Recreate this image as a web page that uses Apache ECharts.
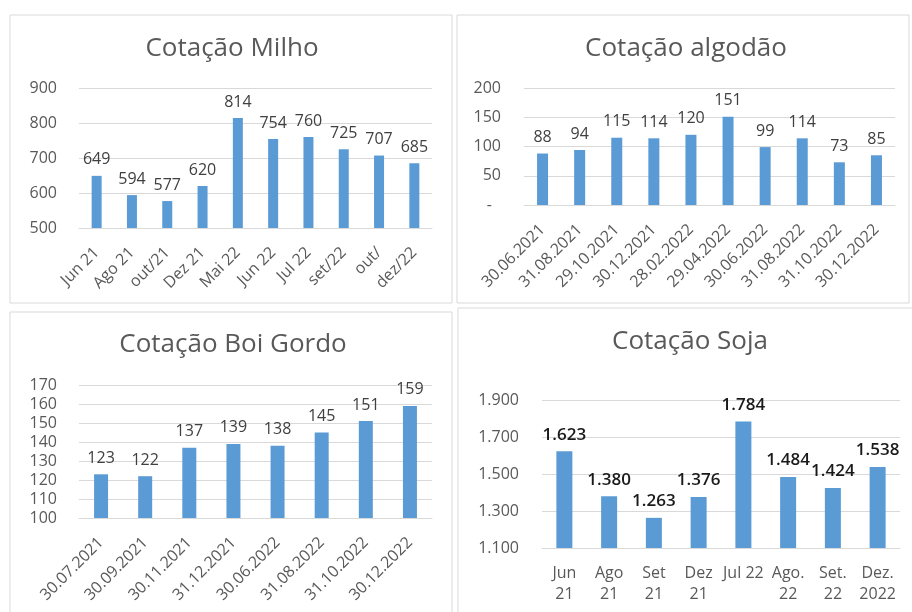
<!DOCTYPE html>
<html><head><meta charset="utf-8">
<script src="https://cdn.jsdelivr.net/npm/echarts@6/dist/echarts.min.js"></script>
<style>html,body{margin:0;padding:0;background:#fff}#c{width:912px;height:612px}</style>
</head><body><div id="c"></div>
<script>
const milhoCats = ['Jun 21','Ago 21','out/21','Dez 21','Mai 22','Jun 22','Jul 22','set/22','out/','dez/22'];
const milhoVals = [649,594,577,620,814,754,760,725,707,685];
const milhoTicks = [500,600,700,800,900];

const algodaoCats = ['30.06.2021','31.08.2021','29.10.2021','30.12.2021','28.02.2022','29.04.2022','30.06.2022','31.08.2022','31.10.2022','30.12.2022'];
const algodaoVals = [88,94,115,114,120,151,99,114,73,85];
const algodaoTicks = [0,50,100,150,200];

const boiCats = ['30.07.2021','30.09.2021','30.11.2021','31.12.2021','30.06.2022','31.08.2022','31.10.2022','30.12.2022'];
const boiVals = [123,122,137,139,138,145,151,159];
const boiTicks = [100,110,120,130,140,150,160,170];

const sojaCats = ['Jun\n21','Ago\n21','Set\n21','Dez\n21','Jul 22','Ago.\n22','Set.\n22','Dez.\n2022'];
const sojaVals = [1623,1380,1263,1376,1784,1484,1424,1538];
const sojaTicks = [1100,1300,1500,1700,1900];

const FONT = 'Open Sans';
const GRAY = '#595959';
const LBL = '#404040';
const GRID = '#d9d9d9';
const BAR = '#5b9bd5';

function thousands(v){ return String(v).replace(/\B(?=(\d{3})+(?!\d))/g,'.'); }

const chart = echarts.init(document.getElementById('c'), null, {renderer:'canvas'});

function xAxis(idx, cats, opts){
  return Object.assign({
    type:'category', gridIndex: idx, data: cats,
    axisLine:{show:true, lineStyle:{color:GRID, width:1}},
    axisTick:{show:false},
    axisLabel:{color:GRAY, fontFamily:FONT, fontSize:16, rotate:45, margin:22, interval:0}
  }, opts||{});
}
function yAxis(idx, ticks, opts){
  return Object.assign({
    type:'value', gridIndex: idx,
    min: ticks[0], max: ticks[ticks.length-1], interval: ticks[1]-ticks[0],
    axisLine:{show:false}, axisTick:{show:false},
    splitLine:{show:true, lineStyle:{color:GRID, width:1}},
    axisLabel:{color:GRAY, fontFamily:FONT, fontSize:16, margin:22}
  }, opts||{});
}
function bars(idx, vals, w, lblOpts){
  return {
    type:'bar', xAxisIndex: idx, yAxisIndex: idx, data: vals, barWidth: w,
    itemStyle:{color:BAR}, silent:true, animation:false,
    label:Object.assign({show:true, position:'top', distance:8, color:LBL, fontFamily:FONT, fontSize:16}, lblOpts||{})
  };
}

const titleStyle = {color:GRAY, fontFamily:FONT, fontSize:26, fontWeight:'normal'};

const option = {
  backgroundColor:'#fff',
  animation:false,
  graphic:[
    {type:'rect', shape:{x:10,y:15,width:442,height:288}, style:{fill:'#fff', stroke:GRID, lineWidth:1}, z:-10},
    {type:'rect', shape:{x:457,y:15,width:452,height:288}, style:{fill:'#fff', stroke:GRID, lineWidth:1}, z:-10},
    {type:'rect', shape:{x:10,y:312,width:442,height:310}, style:{fill:'#fff', stroke:GRID, lineWidth:1}, z:-10},
    {type:'rect', shape:{x:458,y:308,width:460,height:310}, style:{fill:'#fff', stroke:GRID, lineWidth:1}, z:-10}
  ],
  title:[
    {text:'Cotação Milho', left:227, top:44, textAlign:'center', textVerticalAlign:'middle', textStyle:titleStyle},
    {text:'Cotação algodão', left:681, top:44, textAlign:'center', textVerticalAlign:'middle', textStyle:titleStyle},
    {text:'Cotação Boi Gordo', left:228, top:340, textAlign:'center', textVerticalAlign:'middle', textStyle:titleStyle},
    {text:'Cotação Soja', left:685, top:337, textAlign:'center', textVerticalAlign:'middle', textStyle:titleStyle}
  ],
  grid:[
    {left:79, right:480, top:88, bottom:384},
    {left:524, right:17, top:88, bottom:407},
    {left:79, right:480, top:385, bottom:94},
    {left:542, right:12, top:400, bottom:64}
  ],
  xAxis:[
    xAxis(0, milhoCats),
    xAxis(1, algodaoCats),
    xAxis(2, boiCats),
    xAxis(3, sojaCats, {axisLabel:{color:GRAY, fontFamily:FONT, fontSize:16, rotate:0, margin:15, interval:0, lineHeight:21}})
  ],
  yAxis:[
    yAxis(0, milhoTicks),
    yAxis(1, algodaoTicks, {axisLabel:{color:GRAY, fontFamily:FONT, fontSize:16, margin:23,
      formatter:function(v){ return v===0 ? '{d|-}' : String(v); },
      rich:{d:{color:GRAY, fontFamily:FONT, fontSize:16, padding:[0,9,0,0]}}}}),
    yAxis(2, boiTicks, {axisLabel:{color:GRAY, fontFamily:FONT, fontSize:16, margin:22}}),
    yAxis(3, sojaTicks, {interval: 100, splitLine:{show:false},
      axisLabel:{color:GRAY, fontFamily:FONT, fontSize:16, margin:23,
        formatter:function(v){ return sojaTicks.indexOf(v) >= 0 ? thousands(v) : ''; }}})
  ],
  series:[
    bars(0, milhoVals, 10),
    bars(1, algodaoVals, 11),
    bars(2, boiVals, 14),
    {
      type:'line', xAxisIndex:3, yAxisIndex:3, data:[], z:1, silent:true, animation:false,
      markLine:{silent:true, z:1, symbol:['none','none'], animation:false, label:{show:false},
        lineStyle:{color:GRID, width:1, type:'solid'},
        data: sojaTicks.map(function(t){ return {yAxis:t}; })}
    },
    Object.assign(bars(3, sojaVals, 16, {color:'#1a1a1a', fontSize:17, fontWeight:600, formatter:function(p){ return thousands(p.value); }}), {z:3})
  ]
};
chart.setOption(option);
</script>
</body></html>
